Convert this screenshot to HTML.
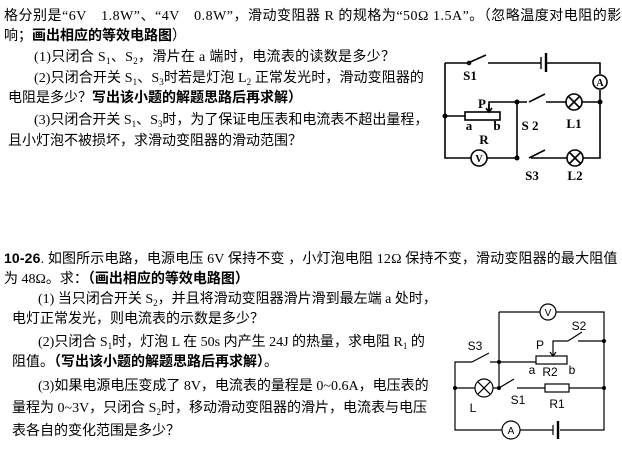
<!DOCTYPE html>
<html><head><meta charset="utf-8"><style>
body{margin:0;width:622px;height:464px;background:#fff;position:relative;overflow:hidden;font-family:"Liberation Serif","Noto Sans CJK SC",serif;font-size:14px;color:#000}
.l{position:absolute;white-space:nowrap;line-height:16px}
b{font-weight:bold}
sub{font-size:9px;vertical-align:-3px;line-height:0}
svg{position:absolute;left:0;top:0}
</style></head><body>
<div class="l" style="left:4px;top:9px;letter-spacing:0.5px">格分别是“6V　1.8W”、“4V　0.8W”，滑动变阻器 R 的规格为“50Ω 1.5A”。（忽略温度对电阻的影</div>
<div class="l" style="left:4px;top:29px">响；<b>画出相应的等效电路图</b>）</div>
<div class="l" style="left:34px;top:50px;letter-spacing:0.3px">(1)只闭合 S<sub>1</sub>、S<sub>2</sub>，滑片在 a 端时，电流表的读数是多少？</div>
<div class="l" style="left:34px;top:71px;letter-spacing:0.1px">(2)只闭合开关 S<sub>1</sub>、S<sub>3</sub>时若是灯泡 L<sub>2</sub> 正常发光时，滑动变阻器的</div>
<div class="l" style="left:8px;top:91px">电阻是多少？<b>写出该小题的解题思路后再求解）</b></div>
<div class="l" style="left:34px;top:113px">(3)只闭合开关 S<sub>1</sub>、S<sub>3</sub>时，为了保证电压表和电流表不超出量程，</div>
<div class="l" style="left:8px;top:134px">且小灯泡不被损坏，求滑动变阻器的滑动范围？</div>

<div class="l" style="left:4px;top:250px;letter-spacing:0.15px"><b style="font-family:'Liberation Sans',sans-serif">10-26</b>. 如图所示电路，电源电压 6V 保持不变 ，小灯泡电阻 12Ω 保持不变，滑动变阻器的最大阻值</div>
<div class="l" style="left:4px;top:272px">为 48Ω。求：<b>（画出相应的等效电路图）</b></div>
<div class="l" style="left:38px;top:292px">(1) 当只闭合开关 S<sub>2</sub>，并且将滑动变阻器滑片滑到最左端 a 处时，</div>
<div class="l" style="left:12px;top:312px">电灯正常发光，则电流表的示数是多少？</div>
<div class="l" style="left:38px;top:335px">(2)只闭合 S<sub>1</sub>时，灯泡 L 在 50s 内产生 24J 的热量，求电阻 R<sub>1</sub> 的</div>
<div class="l" style="left:12px;top:355px">阻值。<b>（写出该小题的解题思路后再求解）</b>。</div>
<div class="l" style="left:38px;top:379px">(3)如果电源电压变成了 8V，电流表的量程是 0~0.6A，电压表的</div>
<div class="l" style="left:12px;top:401px">量程为 0~3V，只闭合 S<sub>2</sub>时，移动滑动变阻器的滑片，电流表与电压</div>
<div class="l" style="left:12px;top:424px">表各自的变化范围是多少？</div>

<svg width="622" height="464" viewBox="0 0 622 464">
<g stroke="#000" stroke-width="1.6" fill="none">
<path d="M445,63 H468 M488,63 H541 M545,63 H600 V74 M600,90 V158 H583 M567,158 H531 M517,158 H487 M471,158 H445 V63"/>
<path d="M468,63 L486,55"/><circle cx="469" cy="63" r="1.5"/>
<path d="M541,57 V69" stroke-width="1.4"/><path d="M546,53 V72" stroke-width="2.4"/>
<circle cx="600" cy="82" r="7" fill="#fff"/>
<path d="M445,116 H465"/><rect x="465" y="112" width="35" height="8" fill="#fff"/>
<path d="M489,112 V102 H527 M546,102 H566 M582,102 H600"/><path d="M489,104 V111"/><path d="M486,108 L489,112 L492,108"/>
<path d="M517,102 V158"/>
<path d="M529,102 L545,94"/><path d="M529,158 L545,150"/>
<circle cx="574" cy="102" r="8" fill="#fff"/><path d="M568.5,96.5 L579.5,107.5 M579.5,96.5 L568.5,107.5"/>
<circle cx="575" cy="158" r="8" fill="#fff"/><path d="M569.5,152.5 L580.5,163.5 M580.5,152.5 L569.5,163.5"/>
<circle cx="479" cy="158" r="8" fill="#fff"/>
<g stroke-width="1.2">
<path d="M499,312 H540 M556,312 H604 V430 H560 M553,430 H520 M502,430 H455 V362 H472 M490,362 H536"/>
<circle cx="548" cy="312" r="8" fill="#fff"/>
<path d="M499,312 V388"/>
<path d="M472,362 L489,353"/>
<rect x="536" y="356" width="31" height="8" fill="#fff"/>
<path d="M553,356 V341 H568 M578,341 H604"/><path d="M568,341 L582,332"/><path d="M550,352 L553,356 L556,352"/>
<path d="M455,388 H475 M493,388 H499 M499,388 L514,379 M517,388 H545 M569,388 H604"/>
<circle cx="484" cy="388" r="9" fill="#fff"/><path d="M477.6,381.6 L490.4,394.4 M490.4,381.6 L477.6,394.4"/>
<rect x="545" y="384" width="24" height="8" fill="#fff"/>
<circle cx="511" cy="430" r="9" fill="#fff"/>
<path d="M553,425 V435" stroke-width="1.2"/><path d="M558,421 V439" stroke-width="2.4"/>
</g>
</g>
<g fill="#000">
<circle cx="445" cy="116" r="2.5"/><circle cx="517" cy="102" r="2.5"/><circle cx="600" cy="102" r="2.5"/><circle cx="517" cy="158" r="2.5"/>
<circle cx="499" cy="362" r="2"/><circle cx="499" cy="388" r="2"/><circle cx="455" cy="388" r="2"/><circle cx="604" cy="388" r="2"/><circle cx="604" cy="341" r="2"/>
</g>
<g font-family="Liberation Serif,serif" font-weight="bold" font-size="13" text-anchor="middle">
<text x="470" y="80">S1</text><text x="600" y="86" font-size="10">A</text>
<text x="482" y="108">P</text><text x="469" y="130">a</text><text x="497" y="130">b</text><text x="484" y="144">R</text>
<text x="530" y="130">S 2</text><text x="574" y="128">L1</text>
<text x="532" y="180">S3</text><text x="575" y="180">L2</text><text x="479" y="162" font-size="10">V</text>
</g>
<g font-family="Liberation Sans,sans-serif" font-size="12" text-anchor="middle">
<text x="475" y="350">S3</text><text x="540" y="349">P</text><text x="579" y="330">S2</text>
<text x="532" y="374">a</text><text x="550" y="376">R2</text><text x="572" y="374">b</text>
<text x="473" y="412">L</text><text x="518" y="404">S1</text><text x="557" y="408">R1</text>
<text x="548" y="316" font-size="10">V</text><text x="511" y="434" font-size="10">A</text>
</g>
</svg>
</body></html>
